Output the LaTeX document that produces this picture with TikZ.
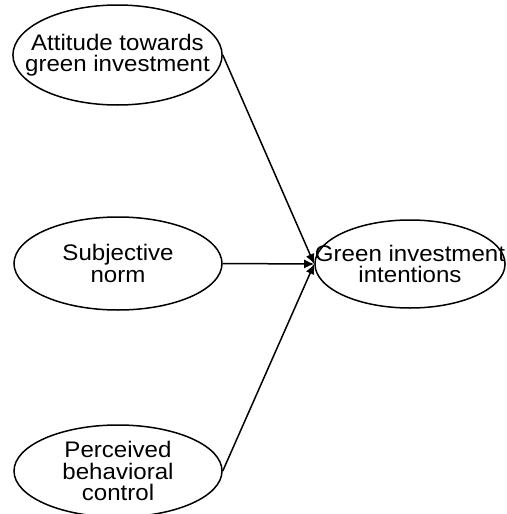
\documentclass[tikz,border=0pt]{standalone}
\usepackage{fontspec}
\setmainfont{Liberation Sans}[FakeStretch=1.07]
\usetikzlibrary{shapes.geometric,arrows.meta}

\tikzset{
	construct/.style={draw, ellipse, line width=1.5pt, inner sep=0pt, align=center,
		font=\fontsize{22.5}{21.5}\selectfont},
	path/.style={-{Latex[length=10pt,width=9pt]}, line width=1.5pt}
}

\begin{document}
\begin{tikzpicture}[x=1pt,y=-1pt]
			\useasboundingbox (0,0) rectangle (506,514);
			
			% the three predictors on the left
			\node[construct, inner xsep=-18.4pt, minimum width=209pt, minimum height=100pt] (att) at (117.5,55) {Attitude towards\\green investment};
			\node[construct, minimum width=208pt, minimum height=93pt] (norm) at (118,263.5) {Subjective\\norm};
			\node[construct, minimum width=208pt, minimum height=92pt] (pbc) at (118,471) {Perceived\\behavioral\\control};
			
			% outcome
			\node[construct, inner xsep=-27.8pt, minimum width=190pt, minimum height=88pt] (int) at (410,264) {Green investment\\intentions};
		
			\draw[path] (att.east) -- (int.west);
			\draw[path] (norm.east) -- (int.west);
			\draw[path] (pbc.east) -- (int.west);
		\end{tikzpicture}
\end{document}
